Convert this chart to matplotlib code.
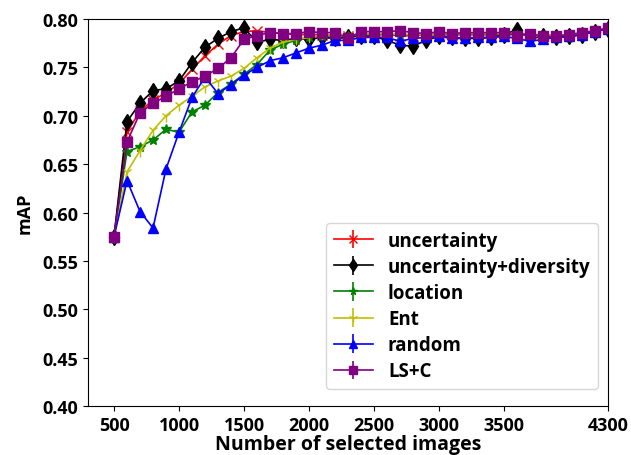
import matplotlib
matplotlib.use("Agg")
import matplotlib.pyplot as plt

plt.rcParams["font.family"] = ["Open Sans", "DejaVu Sans"]
plt.rcParams["font.weight"] = "bold"

num_images = list(range(500, 4301, 100))

uncertainty = [0.575, 0.683, 0.705, 0.716, 0.724, 0.733, 0.748, 0.762, 0.774, 0.783,
               0.787, 0.788, 0.786, 0.785, 0.784, 0.784, 0.784, 0.783, 0.783, 0.784,
               0.784, 0.784, 0.783, 0.783, 0.784, 0.784, 0.784, 0.784, 0.784, 0.784,
               0.785, 0.785, 0.784, 0.783, 0.783, 0.784, 0.785, 0.787, 0.790]
uncertainty_div = [0.575, 0.694, 0.713, 0.726, 0.728, 0.736, 0.755, 0.771, 0.780, 0.787,
                   0.791, 0.776, 0.779, 0.778, 0.780, 0.779, 0.781, 0.780, 0.781, 0.783,
                   0.782, 0.778, 0.773, 0.772, 0.778, 0.782, 0.781, 0.780, 0.780, 0.781,
                   0.784, 0.789, 0.780, 0.782, 0.781, 0.782, 0.784, 0.787, 0.790]
location = [0.575, 0.663, 0.668, 0.675, 0.686, 0.683, 0.704, 0.711, 0.724, 0.733,
            0.743, 0.753, 0.768, 0.774, 0.778, 0.781, 0.782, 0.783, 0.783, 0.784,
            0.784, 0.784, 0.783, 0.783, 0.784, 0.784, 0.784, 0.784, 0.784, 0.784,
            0.784, 0.784, 0.783, 0.783, 0.783, 0.784, 0.785, 0.787, 0.790]
ent = [0.575, 0.642, 0.664, 0.685, 0.700, 0.711, 0.720, 0.730, 0.736, 0.741,
       0.749, 0.760, 0.770, 0.776, 0.779, 0.781, 0.783, 0.784, 0.784, 0.784,
       0.785, 0.785, 0.784, 0.784, 0.784, 0.785, 0.785, 0.785, 0.785, 0.785,
       0.785, 0.785, 0.784, 0.784, 0.783, 0.784, 0.785, 0.787, 0.790]
random_sel = [0.575, 0.633, 0.601, 0.584, 0.645, 0.683, 0.719, 0.740, 0.723, 0.732,
              0.742, 0.750, 0.757, 0.760, 0.765, 0.770, 0.773, 0.778, 0.778, 0.781,
              0.781, 0.781, 0.777, 0.780, 0.781, 0.782, 0.780, 0.780, 0.781, 0.781,
              0.782, 0.780, 0.777, 0.779, 0.781, 0.782, 0.784, 0.787, 0.790]
ls_c = [0.575, 0.673, 0.703, 0.713, 0.720, 0.728, 0.735, 0.741, 0.749, 0.760,
        0.779, 0.783, 0.786, 0.785, 0.785, 0.787, 0.786, 0.786, 0.780, 0.787,
        0.787, 0.787, 0.788, 0.786, 0.785, 0.787, 0.785, 0.786, 0.786, 0.786,
        0.786, 0.783, 0.785, 0.782, 0.782, 0.784, 0.786, 0.788, 0.791]

series = [
    ("uncertainty", uncertainty, "red", "x", 7),
    ("uncertainty+diversity", uncertainty_div, "black", "d", 8),
    ("location", location, "green", "*", 7),
    ("Ent", ent, "y", "1", 8),
    ("random", random_sel, "blue", "^", 7),
    ("LS+C", ls_c, "purple", "s", 7),
]

fig = plt.figure(figsize=(6.31, 4.56), dpi=100)
ax = fig.add_axes([0.1395, 0.1075, 0.824, 0.8485])

for label, vals, color, marker, ms in series:
    ax.errorbar(num_images, vals, yerr=[0] * len(vals), color=color, marker=marker,
                markersize=ms, linewidth=1.2, label=label)

ax.set_xlim(300, 4300)
ax.set_ylim(0.40, 0.80)
ax.set_xticks([500, 1000, 1500, 2000, 2500, 3000, 3500, 4300])
ax.set_yticks([0.40, 0.45, 0.50, 0.55, 0.60, 0.65, 0.70, 0.75, 0.80])
ax.set_yticklabels([f"{v:.2f}" for v in ax.get_yticks()])
ax.tick_params(labelsize=13)
for lbl in ax.get_xticklabels() + ax.get_yticklabels():
    lbl.set_fontweight("bold")

ax.set_xlabel("Number of selected images", fontsize=14, fontweight="bold", labelpad=0)
ax.set_ylabel("mAP", fontsize=13, fontweight="bold", labelpad=6)

ax.legend(loc="lower right", handlelength=2.1, labelspacing=0.33, markerscale=0.8,
          borderaxespad=0, bbox_to_anchor=(0.981, 0.044),
          prop={"weight": "bold", "size": 13.5})

fig.savefig("out.png", dpi=100)
